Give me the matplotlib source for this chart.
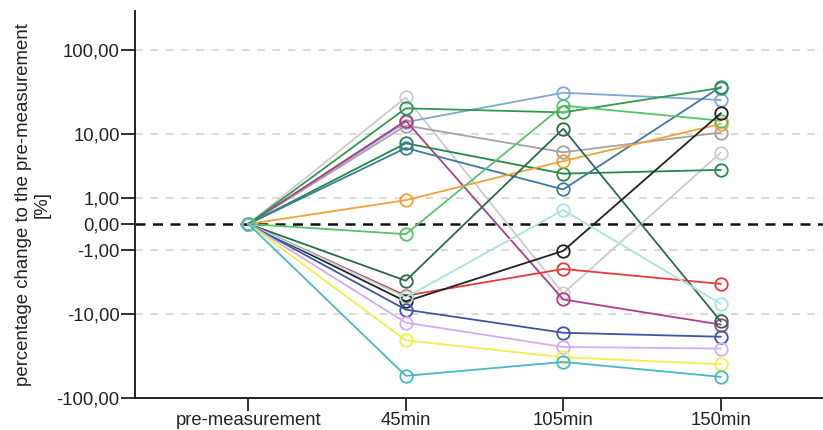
import numpy as np
import matplotlib
matplotlib.use("Agg")
import matplotlib.pyplot as plt
from matplotlib.ticker import FixedLocator, FuncFormatter

plt.rcParams['font.family'] = ['Liberation Sans', 'DejaVu Sans']

# time points
times = ['pre-measurement', '45min', '105min', '150min']

# percentage change per subject (pre, 45, 105, 150)
s_lightgray = [0, 27.7, -5.3, 5.6]
s_lightblue = [0, 13.9, 31.5, 25.8]
s_magenta = [0, 14.5, -6.4, -13.4]
s_gray = [0, 12.6, 5.7, 10.3]
s_green1 = [0, 7.5, 2.8, 3.2]
s_steel = [0, 6.5, 1.5, 37.0]
s_green2 = [0, 20.5, 18.3, 36.0]
s_orange = [0, 0.88, 4.3, 13.2]
s_lgreen = [0, -0.31, 22.1, 14.5]
s_dgreen = [0, -3.5, 11.5, -12.2]
s_red = [0, -5.7, -2.3, -3.9]
s_black = [0, -6.8, -1.04, 17.8]
s_lcyan = [0, -6.0, 0.45, -7.3]
s_blue = [0, -8.7, -16.9, -18.9]
s_lavender = [0, -12.7, -25.1, -26.2]
s_yellow = [0, -20.9, -33.3, -40.2]
s_cyan = [0, -55.1, -37.8, -56.6]

series = [
    (s_lightgray, '#cccccc'),
    (s_lightblue, '#7ea6d8'),
    (s_gray, '#a3a3a3'),
    (s_magenta, '#b03d8c'),
    (s_green1, '#23894a'),
    (s_steel, '#3c7aa3'),
    (s_green2, '#2f9a4c'),
    (s_orange, '#f5a033'),
    (s_lgreen, '#55c46a'),
    (s_dgreen, '#2b6b48'),
    (s_red, '#e43b3b'),
    (s_black, '#222222'),
    (s_lcyan, '#a9e2e0'),
    (s_blue, '#3f55a8'),
    (s_lavender, '#d3acf2'),
    (s_yellow, '#f2ee4a'),
    (s_cyan, '#45bac6'),
]


def fwd(v):
    v = np.asarray(v, dtype=float)
    return np.sign(v) * np.log10(1 + np.abs(v))


def inv(y):
    y = np.asarray(y, dtype=float)
    return np.sign(y) * (10 ** np.abs(y) - 1)


fig = plt.figure(figsize=(8.23, 4.30), dpi=100)
ax = fig.add_axes([135 / 823, 32 / 430, 688 / 823, 387 / 430])
ax.set_yscale('function', functions=(fwd, inv))

x = np.arange(len(times))
for vals, col in series:
    ax.plot(x, vals, color=col, lw=1.3, marker='o', markersize=9,
            markerfacecolor='none', markeredgecolor=col, markeredgewidth=1.3,
            zorder=3)

yticks = [-100, -10, -1, 0, 1, 10, 100]
for t in [-10, -1, 1, 10, 100]:
    ax.axhline(t, color='#cfcfcf', lw=1.1, ls=(0, (5, 5)), zorder=1)
ax.axhline(0, color='#111111', lw=1.8, ls=(0, (4, 3)), zorder=2)

ax.set_ylim(-100, 283)
ax.set_xlim(-0.72, 3.65)
ax.yaxis.set_major_locator(FixedLocator(yticks))
ax.yaxis.set_minor_locator(FixedLocator([]))
ax.yaxis.set_major_formatter(FuncFormatter(lambda v, p: f'{v:.2f}'.replace('.', ',')))
ax.set_xticks(x)
ax.set_xticklabels(times)

for s in ['top', 'right']:
    ax.spines[s].set_visible(False)
for s in ['left', 'bottom']:
    ax.spines[s].set_linewidth(1.4)
    ax.spines[s].set_color('#222222')

ax.tick_params(axis='both', direction='out', length=10, width=1.3,
               color='#222222', labelcolor='#222222')
ax.tick_params(axis='y', pad=1, labelsize=13.3)
ax.tick_params(axis='x', length=9, pad=1, labelsize=13.3)

ax.set_ylabel('percentage change to the pre-measurement\n[%]', fontsize=13.4,
              color='#222222', linespacing=1.15)
ax.yaxis.set_label_coords(-0.122, 0.5)

fig.savefig('out.png', dpi=100)
